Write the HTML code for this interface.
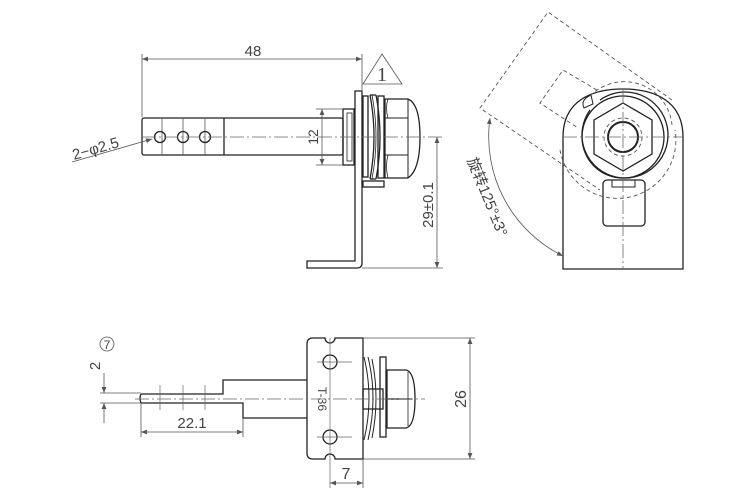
<!DOCTYPE html>
<html><head><meta charset="utf-8"><style>html,body{margin:0;padding:0;background:#fff}svg{display:block}</style></head>
<body>
<svg width="750" height="500" viewBox="0 0 750 500" xmlns="http://www.w3.org/2000/svg" font-family="Liberation Sans, sans-serif">
<defs>
<marker id="a" viewBox="0 0 10 10" refX="10" refY="5" markerWidth="9" markerHeight="6" orient="auto-start-reverse" markerUnits="userSpaceOnUse"><path d="M0,1 L10,5 L0,9 Z" fill="#555"/></marker>
</defs>
<g fill="none" stroke="#222" stroke-width="1.3">
<!-- TOP VIEW -->
<rect x="142" y="118" width="201" height="37" rx="2"/>
<line x1="224" y1="118" x2="224" y2="155"/>
<g stroke-width="0.8" stroke="#555"><line x1="162" y1="118" x2="162" y2="155"/><line x1="183" y1="118" x2="183" y2="155"/><line x1="205" y1="118" x2="205" y2="155"/></g>
<circle cx="160" cy="137" r="5.5"/><circle cx="183" cy="137" r="5.5"/><circle cx="205" cy="137" r="5.5"/>
<rect x="343" y="109" width="11" height="56"/>
<rect x="347" y="113" width="5" height="48" stroke-width="0.8"/>
<path d="M355,91 H362 V263 Q362,268 357,268 H307 V261 H355 Z"/>
<rect x="363" y="96" width="5" height="81"/>
<path d="M370,95 Q378,137 370,179 M376,95 Q384,137 376,179 M370,95 H376 M370,179 H376"/>
<path d="M372,95 Q380,137 372,179" stroke-width="0.8"/>
<rect x="378" y="96" width="6" height="82"/>
<path d="M385,99 H408 Q420,104 420,137 Q420,170 408,178 H385 Z"/>
<path d="M385,118 H408 M385,155 H408 M408,99 V178" stroke-width="1"/>
<path d="M388,99 Q385,108 388,118 M388,155 Q385,166 388,178" stroke-width="0.8"/>
<rect x="363" y="181" width="21" height="6"/>
<!-- RIGHT VIEW -->
<path d="M563,269 V137 C563,102 590,89 623,89 C656,89 683,102 683,137 V269 Z"/>
<polygon points="623,103 652,120 652,154 623,171 594,154 594,120"/>
<circle cx="623" cy="137" r="15" stroke-width="2"/>
<circle cx="623" cy="137" r="41"/>
<path d="M590,110 A43,43 0 1 0 600,100" />
<path d="M591,95 Q580,100 584,108 L593,104 Z" stroke-width="1"/>
<rect x="603" y="180" width="42" height="46" rx="4"/>
<rect x="612" y="180" width="23" height="7" stroke-width="1"/>
<!-- BOTTOM VIEW -->
<path d="M141,394 H223 V380 H307 M141,403 H243 V418 H307 M141,394 Q139,398 141,403"/>
<path d="M313,338 H325 A5,5 0 0 0 335,338 H363 V459 H335 A5,5 0 0 0 325,459 H313 Q307,459 307,453 V344 Q307,338 313,338 Z"/>
<circle cx="330" cy="362" r="7"/><circle cx="330" cy="437" r="7"/>
<path d="M364,357 Q374,398 364,440 M368,357 Q378,398 368,440 M372,359 Q380,398 372,438" stroke-width="1"/>
<rect x="363" y="389" width="20" height="20"/>
<rect x="380" y="357" width="6" height="80"/>
<path d="M387,370 H406 Q415,372 415,399 Q415,426 406,428 H387 Z"/>
<line x1="387" y1="399" x2="412" y2="399"/>
<line x1="408" y1="372" x2="408" y2="426" stroke-width="0.8"/>
</g>
<!-- dashed -->
<g fill="none" stroke="#555" stroke-width="0.9" stroke-dasharray="4,3">
<polyline points="672,100 548,12 480,108 600,190"/>
<polyline points="597,90 563,70 540,103 578,128"/>
<circle cx="623" cy="137" r="19"/>
<path d="M560,150 A52,52 0 0 0 675,130" />
<path d="M590,96 A48,48 0 0 1 672,125"/>
</g>
<!-- center lines -->
<g stroke="#666" stroke-width="0.8" stroke-dasharray="14,3,2,3" fill="none">
<line x1="142" y1="137" x2="442" y2="137"/>
<line x1="563" y1="137" x2="683" y2="137"/>
<line x1="623" y1="90" x2="623" y2="269"/>
<line x1="135" y1="399" x2="425" y2="399"/>
</g>
<g stroke="#666" stroke-width="0.7" fill="none">
<line x1="317" y1="362" x2="352" y2="362"/><line x1="330" y1="338" x2="330" y2="488"/>
<line x1="317" y1="437" x2="352" y2="437"/>
<line x1="160" y1="385" x2="160" y2="410"/><line x1="183" y1="385" x2="183" y2="410"/><line x1="205" y1="385" x2="205" y2="410"/>
</g>
<!-- dimensions -->
<g stroke="#555" stroke-width="0.8" fill="none">
<line x1="142" y1="54" x2="142" y2="117"/><line x1="362" y1="54" x2="362" y2="90"/>
<line x1="142" y1="59" x2="362" y2="59" marker-start="url(#a)" marker-end="url(#a)"/>
<line x1="316" y1="109" x2="343" y2="109"/><line x1="316" y1="165" x2="343" y2="165"/>
<line x1="322" y1="109" x2="322" y2="165" marker-start="url(#a)" marker-end="url(#a)"/>
<line x1="362" y1="268" x2="443" y2="268"/>
<line x1="437" y1="137" x2="437" y2="268" marker-start="url(#a)" marker-end="url(#a)"/>
<line x1="72" y1="162" x2="152" y2="139" marker-end="url(#a)"/>
<polygon points="363,84 402,84 382,54"/>
<path d="M490,118 A133,133 0 0 0 563,256" marker-start="url(#a)" marker-end="url(#a)"/>
<line x1="363" y1="338" x2="475" y2="338"/><line x1="363" y1="459" x2="475" y2="459"/>
<line x1="470" y1="338" x2="470" y2="459" marker-start="url(#a)" marker-end="url(#a)"/>
<line x1="363" y1="459" x2="363" y2="488"/>
<line x1="330" y1="483" x2="363" y2="483" marker-start="url(#a)" marker-end="url(#a)"/>
<line x1="141" y1="403" x2="141" y2="437"/><line x1="243" y1="418" x2="243" y2="437"/>
<line x1="141" y1="432" x2="243" y2="432" marker-start="url(#a)" marker-end="url(#a)"/>
<line x1="100" y1="393" x2="141" y2="393"/><line x1="100" y1="403" x2="141" y2="403"/>
<line x1="104" y1="373" x2="104" y2="393" marker-end="url(#a)"/>
<line x1="104" y1="423" x2="104" y2="403" marker-end="url(#a)"/>
<circle cx="107" cy="344" r="7"/>
</g>
<g fill="#444" font-size="15">
<text x="253" y="56" text-anchor="middle">48</text>
<text x="382" y="81" text-anchor="middle" font-family="Liberation Serif, serif" font-size="20">1</text>
<text transform="translate(318,137) rotate(-90)" text-anchor="middle" font-size="14">12</text>
<text transform="translate(433,205) rotate(-90)" text-anchor="middle">29±0.1</text>
<text transform="translate(74,160) rotate(-16)" font-size="15">2−φ2.5</text>
<text transform="translate(466,399) rotate(-90)" text-anchor="middle" font-size="16">26</text>
<text x="346" y="479" text-anchor="middle" font-size="16">7</text>
<text x="192" y="428" text-anchor="middle" font-size="15">22.1</text>
<text transform="translate(100,366) rotate(-90)" text-anchor="middle" font-size="15">2</text>
<text x="107" y="349" text-anchor="middle" font-size="12">7</text>
<text transform="translate(318,399) rotate(90)" text-anchor="middle" font-size="12">T-36</text>
<text transform="translate(467,160) rotate(68)" font-size="15" font-family="Liberation Sans, Noto Sans CJK SC, sans-serif">旋转125°±3°</text>
</g>
</svg>
</body></html>
